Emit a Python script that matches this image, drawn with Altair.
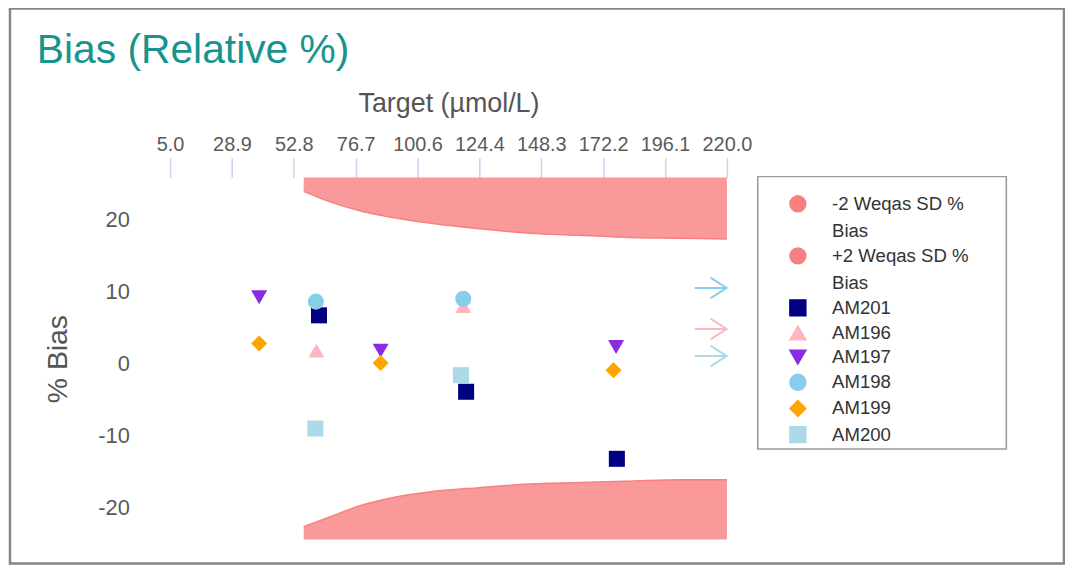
import altair as alt
import pandas as pd

# ---------------- data ----------------
legend_order = ["-2 Weqas SD % Bias", "+2 Weqas SD % Bias", "AM201", "AM196",
                "AM197", "AM198", "AM199", "AM200"]
series_colors = ["#F88080", "#F88080", "#000080", "#FFB6C1", "#8A2BE2",
                 "#87CEEB", "#FFA500", "#ADD8E6"]
series_shapes = ["circle", "circle", "square", "triangle-up", "triangle-down",
                 "circle", "diamond", "square"]

pt_series = ["AM201", "AM201", "AM201", "AM196", "AM196", "AM197", "AM197", "AM197",
             "AM198", "AM198", "AM199", "AM199", "AM199", "AM200", "AM200"]
pt_target = [62.5, 119.3, 177.5, 61.5, 118.2, 39.4, 86.3, 177.2,
             61.3, 118.2, 39.4, 86.3, 176.2, 61.1, 117.3]
pt_bias = [6.7, -3.9, -13.2, 1.8, 8.0, 9.2, 1.8, 2.3,
           8.6, 9.0, 2.8, 0.1, -0.9, -9.0, -1.6]

arrow_series = ["AM198", "AM196", "AM200"]
arrow_target = [213.7, 213.7, 213.7]
arrow_bias = [10.5, 4.8, 1.05]

band_target = [56.6, 66.3, 79.3, 92.2, 105.1, 124.4, 143.8, 163.2, 182.5, 201.9, 220.0]
band_plus2 = [23.9, 22.5, 21.1, 20.2, 19.5, 18.7, 18.1, 17.8, 17.5, 17.4, 17.3]
band_minus2 = [-22.6, -21.3, -19.6, -18.5, -17.8, -17.2, -16.7, -16.5, -16.3, -16.1, -16.1]

x_ticks = [5.0, 28.889, 52.778, 76.667, 100.556, 124.444, 148.333, 172.222, 196.111, 220.0]
y_ticks = [-20, -10, 0, 10, 20]
x_domain = [5.0, 220.0]
y_domain = [-24.4, 25.8]

FONT = "Liberation Sans"

# ---------------- tables ----------------
points_df = pd.DataFrame({"series": pt_series, "target": pt_target, "bias": pt_bias})
arrows_df = pd.DataFrame({"series": arrow_series, "target": arrow_target, "bias": arrow_bias})
band_df = pd.concat([
    pd.DataFrame({"series": "+2 Weqas SD % Bias", "target": band_target,
                  "edge": band_plus2, "outer": y_domain[1]}),
    pd.DataFrame({"series": "-2 Weqas SD % Bias", "target": band_target,
                  "edge": band_minus2, "outer": y_domain[0]}),
])
one = pd.DataFrame({"k": [0]})

# ---------------- scales / guides ----------------
xscale = alt.Scale(domain=x_domain, nice=False, zero=False)
yscale = alt.Scale(domain=y_domain, nice=False, zero=False)
cscale = alt.Scale(domain=legend_order, range=series_colors)
sscale = alt.Scale(domain=legend_order, range=series_shapes)

xaxis = alt.Axis(orient="top", values=x_ticks, format=".1f", title="Target (µmol/L)",
                 domain=False, grid=False, ticks=True, tickSize=20, tickWidth=1.5,
                 tickColor="#c9d3ea", labelFontSize=20, labelColor="#5a5a5a",
                 labelFont=FONT, labelPadding=3, labelFlush=False, labelOverlap=False,
                 titleFont=FONT, titleFontSize=27, titleFontWeight="normal",
                 titleColor="#555555", titlePadding=17)
yaxis = alt.Axis(orient="left", values=y_ticks, title="% Bias", domain=False, grid=False,
                 ticks=False, tickSize=0, labelPadding=41, labelFontSize=22,
                 labelExpr="'' + datum.value",
                 labelColor="#5a5a5a", labelFont=FONT, titleFont=FONT, titleFontSize=28.5,
                 titleFontWeight="normal", titleColor="#555555", titlePadding=25)

legend = alt.Legend(
    orient="none", legendX=622, legendY=17, title=None, padding=0,
    symbolSize=256, labelFontSize=18.7, labelFont=FONT, labelColor="#333333",
    labelOffset=25, rowPadding=3.3, labelLimit=300, symbolOpacity=1,
    labelExpr="indexof(datum.label, 'Weqas') >= 0 ? [substring(datum.label, 0, 13), 'Bias'] : datum.label",
)

bands = alt.Chart(band_df).mark_area(
    opacity=0.8, interpolate="monotone", line={"strokeWidth": 1.5, "opacity": 1}
).encode(
    x=alt.X("target:Q", scale=xscale, axis=xaxis),
    y=alt.Y("edge:Q", scale=yscale, axis=yaxis),
    y2="outer:Q",
    color=alt.Color("series:N", scale=cscale, legend=legend),
)

points = alt.Chart(points_df).mark_point(filled=True, size=260, opacity=1).encode(
    x=alt.X("target:Q", scale=xscale),
    y=alt.Y("bias:Q", scale=yscale),
    color=alt.Color("series:N", scale=cscale, legend=legend),
    shape=alt.Shape("series:N", scale=sscale, legend=legend),
)

arrows = alt.Chart(arrows_df).mark_point(
    shape="M-1,0L1,0M0,-0.65L1,0L0,0.65", filled=False, size=1024,
    strokeWidth=2, opacity=1
).encode(
    x=alt.X("target:Q", scale=xscale),
    y=alt.Y("bias:Q", scale=yscale),
    color=alt.Color("series:N", scale=cscale, legend=None),
)

legend_box = alt.Chart(one).mark_rect(fill="transparent", stroke="#9a9a9a", strokeWidth=1.5).encode(
    x=alt.value(591), x2=alt.value(841), y=alt.value(-1), y2=alt.value(273)
)
frame = alt.Chart(one).mark_rect(fill="transparent", stroke="#858585", strokeWidth=2.5).encode(
    x=alt.value(-161), x2=alt.value(899), y=alt.value(-170), y2=alt.value(388)
)

chart = alt.layer(frame, bands, points, arrows, legend_box).properties(
    width=560, height=364,
    padding={"left": 163, "top": 169, "right": 340, "bottom": 25},
    autosize=alt.AutoSizeParams(type="none"),
    title=alt.TitleParams("Bias (Relative %)", anchor="start", frame="group",
                          baseline="alphabetic", dx=-134, dy=97, offset=0,
                          fontSize=41, font=FONT, fontWeight="normal", color="#17948e"),
).configure(
    background="white",
    view=alt.ViewConfig(stroke=None),
    style={"guide-label": {"lineHeight": 27.5}},
)

chart.save("out.html", embed_options={"renderer": "svg", "actions": False})
